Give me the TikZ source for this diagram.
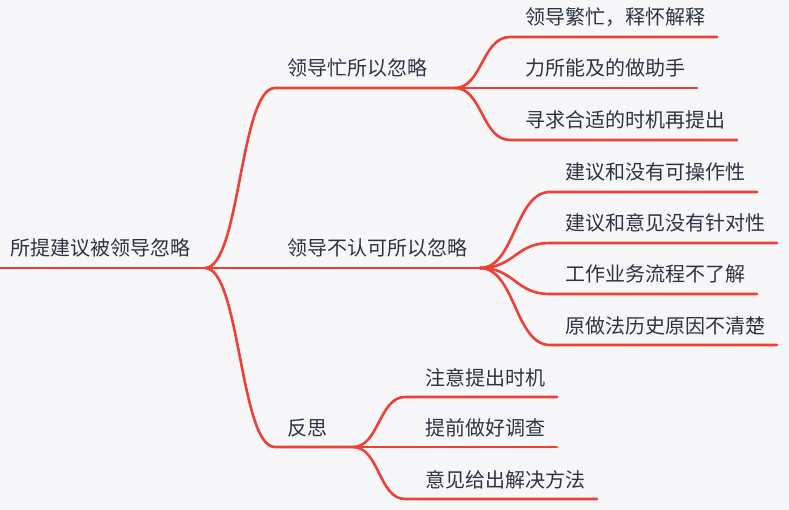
\documentclass[tikz,border=0pt]{standalone}
\usepackage{fontspec}
\setmainfont{Noto Sans CJK SC}
\definecolor{bgc}{RGB}{247,247,250}
\definecolor{lnc}{RGB}{238,64,52}
\definecolor{txc}{RGB}{44,52,66}
\begin{document}
\begin{tikzpicture}[x=1pt,y=-1pt,
  lbl/.style={anchor=base west, inner sep=0pt, font=\fontsize{20}{24}\selectfont, text=txc},
  link/.style={draw=lnc, line width=2.6pt, line cap=round}]
\fill[bgc] (0,0) rectangle (789,510);
\useasboundingbox (0,0) rectangle (789,510);

% coordinates
\coordinate (rs) at (0,268);
\coordinate (j0) at (205,268);
\coordinate (b1s) at (275,88);
\coordinate (f1) at (455,88);
\coordinate (f2) at (480,268);
\coordinate (b3s) at (275,447);
\coordinate (f3) at (353,447);

\coordinate (l11s) at (510,37);  \coordinate (l11e) at (717,37);
\coordinate (l12e) at (697,88);
\coordinate (l13s) at (510,140); \coordinate (l13e) at (737,140);

\coordinate (l21s) at (550,192); \coordinate (l21e) at (757,192);
\coordinate (l22s) at (550,243); \coordinate (l22e) at (777,243);
\coordinate (l23s) at (550,294); \coordinate (l23e) at (757,294);
\coordinate (l24s) at (550,345); \coordinate (l24e) at (777,345);

\coordinate (l31s) at (405,397); \coordinate (l31e) at (557,397);
\coordinate (l32e) at (557,447);
\coordinate (l33s) at (405,499); \coordinate (l33e) at (597,499);

% texts
\node[lbl] (root) at (10,256) {所提建议被领导忽略};
\node[lbl] (b1) at (287,76) {领导忙所以忽略};
\node[lbl] (b2) at (287,256) {领导不认可所以忽略};
\node[lbl] (b3) at (287,435) {反思};

\node[lbl] (t11) at (525,25) {领导繁忙，释怀解释};
\node[lbl] (t12) at (525,76) {力所能及的做助手};
\node[lbl] (t13) at (525,128) {寻求合适的时机再提出};

\node[lbl] (t21) at (565,180) {建议和没有可操作性};
\node[lbl] (t22) at (565,231) {建议和意见没有针对性};
\node[lbl] (t23) at (565,282) {工作业务流程不了解};
\node[lbl] (t24) at (565,333) {原做法历史原因不清楚};

\node[lbl] (t31) at (425,385) {注意提出时机};
\node[lbl] (t32) at (425,435) {提前做好调查};
\node[lbl] (t33) at (425,487) {意见给出解决方法};

% connectors
\draw[link] (rs) -- (j0) -- (f2);
\draw[link] (j0) .. controls (240,268) and (240,88) .. (b1s) -- (f1);
\draw[link] (j0) .. controls (240,268) and (240,447) .. (b3s) -- (f3);

\draw[link] (f1) .. controls (482,88) and (482,37) .. (l11s) -- (l11e);
\draw[link] (f1) -- (l12e);
\draw[link] (f1) .. controls (482,88) and (482,140) .. (l13s) -- (l13e);

\draw[link] (f2) .. controls (515,268) and (515,192) .. (l21s) -- (l21e);
\draw[link] (f2) .. controls (515,268) and (515,243) .. (l22s) -- (l22e);
\draw[link] (f2) .. controls (515,268) and (515,294) .. (l23s) -- (l23e);
\draw[link] (f2) .. controls (515,268) and (515,345) .. (l24s) -- (l24e);

\draw[link] (f3) .. controls (379,447) and (379,397) .. (l31s) -- (l31e);
\draw[link] (f3) -- (l32e);
\draw[link] (f3) .. controls (379,447) and (379,499) .. (l33s) -- (l33e);
\end{tikzpicture}
\end{document}
